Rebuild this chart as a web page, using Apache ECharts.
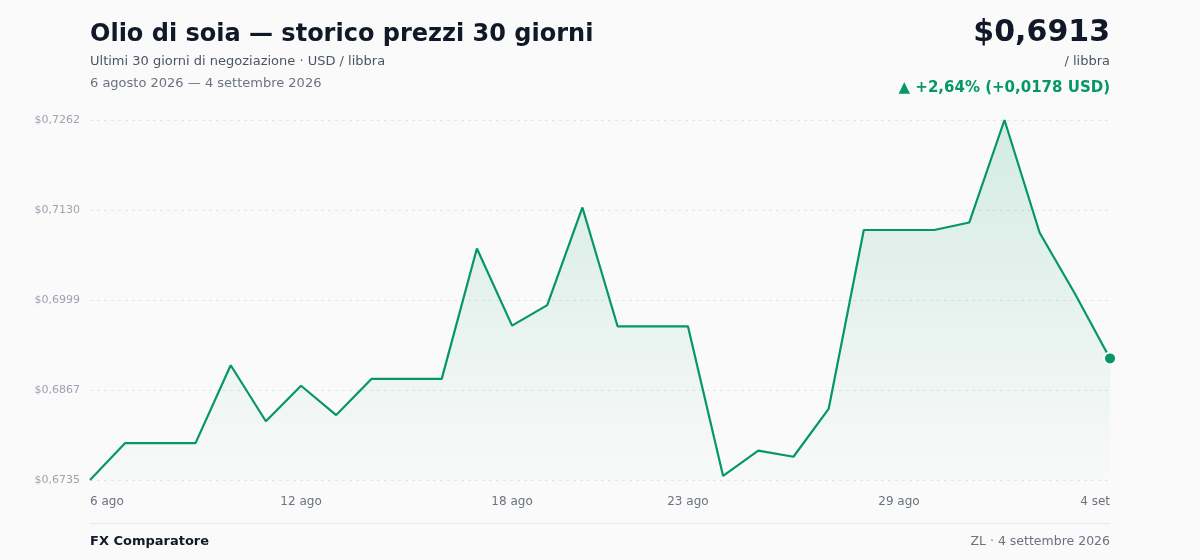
<!DOCTYPE html>
<html>
<head>
<meta charset="utf-8">
<script src="https://cdn.jsdelivr.net/npm/echarts@6/dist/echarts.min.js"></script>
<style>
html,body{margin:0;padding:0;background:#fafafa;}
#chart{width:1200px;height:560px;}
</style>
</head>
<body>
<div id="chart"></div>
<script>
const categories = ["6 ago","7 ago","8 ago","9 ago","10 ago","11 ago","12 ago","13 ago","14 ago","15 ago","16 ago","17 ago","18 ago","19 ago","20 ago","21 ago","22 ago","23 ago","24 ago","25 ago","26 ago","27 ago","28 ago","29 ago","30 ago","31 ago","1 set","2 set","3 set","4 set"];
const prices = [0.6735,0.6789,0.6789,0.6789,0.6903,0.6821,0.6873,0.6830,0.6883,0.6883,0.6883,0.7074,0.6961,0.6991,0.7134,0.6960,0.6960,0.6960,0.6741,0.6778,0.6769,0.6839,0.7101,0.7101,0.7101,0.7112,0.7262,0.7097,0.7008,0.6913];
const shownLabels = [0,6,12,17,23,29];
const yMin = 0.6735, yMax = 0.7262;
const yTickCount = 4;

const fontFamily = "DejaVu Sans, sans-serif";
const green = "#059669";
const chart = echarts.init(document.getElementById('chart'), null, {renderer:'canvas'});
const fmt = v => '$' + (v + 1e-9).toFixed(4).replace('.', ',');

chart.setOption({
  backgroundColor: '#fafafa',
  textStyle: {fontFamily},
  animation: false,
  grid: {left: 90, right: 90, top: 120, bottom: 80, containLabel: false},
  xAxis: {
    type: 'category',
    data: categories,
    boundaryGap: false,
    axisLine: {show: false},
    axisTick: {show: false},
    splitLine: {show: false},
    axisLabel: {
      interval: (i) => shownLabels.includes(i),
      color: '#6b7280', fontSize: 12, margin: 16, fontFamily,
      alignMinLabel: 'left', alignMaxLabel: 'right',
      showMinLabel: true, showMaxLabel: true
    }
  },
  yAxis: {
    type: 'value',
    min: yMin, max: yMax,
    interval: (yMax - yMin) / yTickCount,
    axisLine: {show: false},
    axisTick: {show: false},
    splitLine: {show: true, lineStyle: {color: '#e2e5ea', type: [3, 4], width: 1}},
    axisLabel: {formatter: fmt, color: '#9ca3af', fontSize: 11, margin: 10, fontFamily}
  },
  series: [{
    type: 'line',
    data: prices.map((v, i) => i === prices.length - 1
      ? {value: v, symbol: 'circle', symbolSize: 12, itemStyle: {color: green, borderColor: '#ffffff', borderWidth: 2}}
      : v),
    showSymbol: true,
    symbol: 'none',
    lineStyle: {color: green, width: 2.2},
    itemStyle: {color: green},
    areaStyle: {
      color: new echarts.graphic.LinearGradient(0, 0, 0, 1, [
        {offset: 0, color: 'rgba(5,150,105,0.22)'},
        {offset: 1, color: 'rgba(5,150,105,0.01)'}
      ])
    }
  }],
  graphic: [
    {type:'text', left: 90, top: 23, style:{text:'Olio di soia — storico prezzi 30 giorni', font:'bold 24px "DejaVu Sans"', fill:'#111827'}},
    {type:'text', left: 90, top: 55, style:{text:'Ultimi 30 giorni di negoziazione · USD / libbra', font:'13px "DejaVu Sans"', fill:'#4b5563'}},
    {type:'text', left: 90, top: 77, style:{text:'6 agosto 2026 — 4 settembre 2026', font:'13px "DejaVu Sans"', fill:'#6b7280'}},
    {type:'text', right: 90, top: 18, style:{text:'$0,6913', font:'bold 30px "DejaVu Sans"', fill:'#111827'}},
    {type:'text', right: 90, top: 55, style:{text:'/ libbra', font:'13px "DejaVu Sans"', fill:'#4b5563'}},
    {type:'text', right: 90, top: 81, style:{text:'▲ +2,64% (+0,0178 USD)', font:'bold 15px "DejaVu Sans"', fill:green}},
    {type:'rect', left: 90, top: 523, shape:{width:1020, height:1}, style:{fill:'#e5e7eb'}},
    {type:'text', left: 90, top: 535, style:{text:'FX Comparatore', font:'bold 13px "DejaVu Sans"', fill:'#111827'}},
    {type:'text', right: 90, top: 535, style:{text:'ZL · 4 settembre 2026', font:'12.5px "DejaVu Sans"', fill:'#6b7280'}}
  ]
});
</script>
</body>
</html>
